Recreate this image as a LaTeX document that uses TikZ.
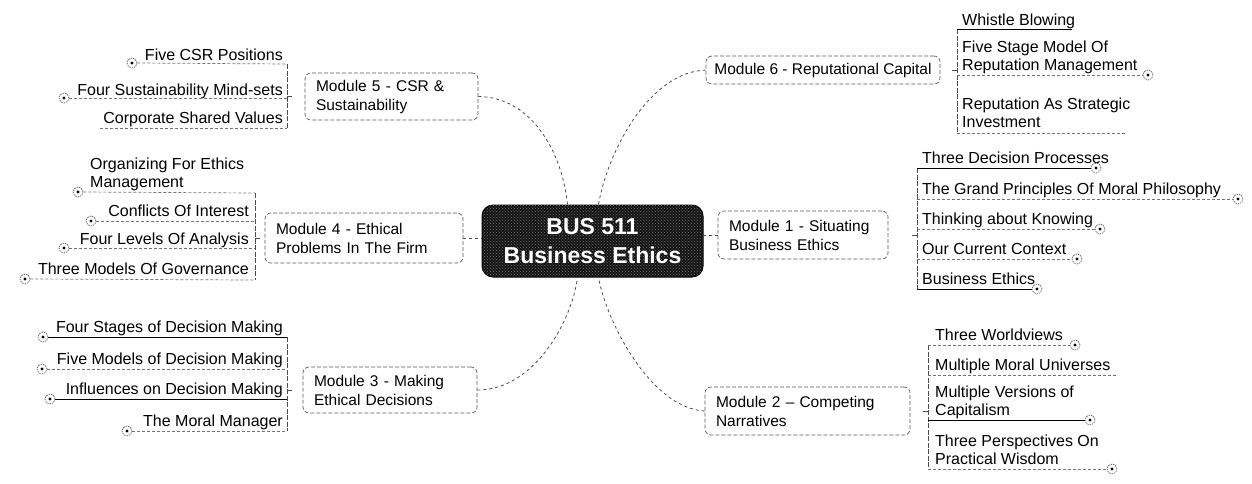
\documentclass[tikz,border=0pt]{standalone}
\usepackage{fontspec}
\setmainfont{Liberation Sans}
\usetikzlibrary{patterns}
\begin{document}
\begin{tikzpicture}[x=1pt,y=-1pt,
  tf/.style={font=\fontsize{16}{17.5}\selectfont, inner sep=0pt, align=left, text=black},
  modbox/.style={draw=black!65, line width=0.7pt, dash pattern=on 4pt off 2pt, rounded corners=6pt,
    font=\fontsize{15.5}{19}\selectfont, align=left, inner xsep=11pt, inner ysep=3pt, text=black},
  hub/.style={rectangle, rounded corners=11pt, draw=black, line width=1pt, fill=black!92,
    postaction={pattern=crosshatch dots, pattern color=black!55},
    text=white, font=\bfseries\fontsize{23}{29}\selectfont, align=center,
    minimum width=221pt, minimum height=72pt, inner sep=0pt},
  ul/.style={draw=black!55, line width=0.7pt, dash pattern=on 3pt off 2pt},
  sul/.style={draw=black, line width=1pt},
  brk/.style={draw=black!70, line width=0.7pt, dash pattern=on 5pt off 1.5pt},
  link/.style={draw=black!70, line width=0.8pt, dash pattern=on 3pt off 3pt},
  mk/.style={circle, draw=black!75, line width=0.6pt, dash pattern=on 1.5pt off 1pt,
    minimum size=10pt, inner sep=0pt,
    path picture={\fill[black] (path picture bounding box.center) circle[radius=1.7pt];}}
]
\useasboundingbox (0,0) rectangle (1252,483);

% ---------------- hub
\node[hub] (hub) at (592.5,241) {BUS 511\\Business Ethics};

% ---------------- module boxes
\node[modbox, text width=151pt, minimum height=47pt] (m5) at (391.5,96.5) {Module 5 - CSR \&\\Sustainability};
\node[modbox, text width=176pt, minimum height=50pt] (m4) at (364,238) {Module 4 - Ethical\\Problems In The Firm};
\node[modbox, text width=152pt, minimum height=46pt] (m3) at (390,390) {Module 3 - Making\\Ethical Decisions};
\node[modbox, inner xsep=8pt, minimum width=234pt, minimum height=28pt] (m6) at (823,70) {Module 6 - Reputational Capital};
\node[modbox, text width=148pt, minimum height=48pt] (m1) at (803,235) {Module 1 - Situating\\Business Ethics};
\node[modbox, text width=183pt, minimum height=48pt] (m2) at (807.5,411) {Module 2 -- Competing\\Narratives};

% ---------------- links from hub
\draw[link] (m5.east) .. controls (530,97) and (562,150) .. ([xshift=-25pt]hub.north);
\draw[link] (m6.west) .. controls (650,72) and (608,150) .. ([xshift=6pt]hub.north);
\draw[link] (m4.east) -- (m4.east -| hub.west);
\draw[link] (m1.west) -- (m1.west -| hub.east);
\draw[link] (m3.east) .. controls (535,390) and (572,320) .. ([xshift=-15pt]hub.south);
\draw[link] (m2.west) .. controls (650,408) and (606,320) .. ([xshift=6pt]hub.south);

% ================= Module 5 topics
\coordinate (b5t) at (287,64);
\coordinate (b5b) at (287,128);
\draw[brk] (b5t) -- (b5b);
\draw[brk] (b5t |- m5.west) -- ++(6,0);
\node[tf, anchor=base east] (t5a) at (283,60) {Five CSR Positions};
\node[tf, anchor=base east] (t5b) at (283,95) {Four Sustainability Mind-sets};
\node[tf, anchor=base east] (t5c) at (283,123) {Corporate Shared Values};
\node[mk] (k5a) at (132,63) {};
\node[mk] (k5b) at (64,98) {};
\draw[ul] (k5a.east) -- (b5t);
\draw[ul] (k5b.east) -- (287,98);
\draw[ul] (100,128) -- (b5b);

% ================= Module 4 topics
\coordinate (b4t) at (255,193);
\coordinate (b4b) at (255,280);
\draw[brk] (b4t) -- (b4b);
\draw[brk] (b4t |- m4.west) -- ++(6,0);
\node[tf, anchor=base west] (t4a) at (90,187) {Organizing For Ethics\\Management};
\node[tf, anchor=base east] (t4b) at (249,216) {Conflicts Of Interest};
\node[tf, anchor=base east] (t4c) at (249,244) {Four Levels Of Analysis};
\node[tf, anchor=base east] (t4d) at (249,274) {Three Models Of Governance};
\node[mk] (k4a) at (78,192) {};
\node[mk] (k4b) at (91,221) {};
\node[mk] (k4c) at (64,248) {};
\node[mk] (k4d) at (25,279) {};
\draw[ul] (k4a.east) -- (b4t);
\draw[ul] (k4b.east) -- (255,221);
\draw[ul] (k4c.east) -- (255,248);
\draw[ul] (k4d.east) -- (b4b);

% ================= Module 3 topics
\coordinate (b3t) at (287,337);
\coordinate (b3b) at (287,431);
\draw[brk] (b3t) -- (b3b);
\draw[brk] (b3t |- m3.west) -- ++(6,0);
\node[tf, anchor=base east] (t3a) at (283,332) {Four Stages of Decision Making};
\node[tf, anchor=base east] (t3b) at (283,364) {Five Models of Decision Making};
\node[tf, anchor=base east] (t3c) at (283,394) {Influences on Decision Making};
\node[tf, anchor=base east] (t3d) at (283,426) {The Moral Manager};
\node[mk] (k3a) at (43,337) {};
\node[mk] (k3b) at (42,369) {};
\node[mk] (k3c) at (50,399) {};
\node[mk] (k3d) at (127,431) {};
\draw[sul] (k3a.east) -- (b3t);
\draw[ul] (k3b.east) -- (287,369);
\draw[sul] (k3c.east) -- (287,399);
\draw[ul] (k3d.east) -- (b3b);

% ================= Module 6 topics
\coordinate (b6t) at (957,29);
\coordinate (b6b) at (957,133);
\draw[brk] (b6t) -- (b6b);
\draw[brk] (b6t |- m6.east) -- ++(-6,0);
\node[tf, anchor=base west] (t6a) at (962,25) {Whistle Blowing};
\node[tf, anchor=base west] (t6b) at (962,70) {Five Stage Model Of\\Reputation Management};
\node[tf, anchor=base west] (t6c) at (962,127) {Reputation As Strategic\\Investment};
\node[mk] (k6b) at (1148,75) {};
\draw[sul] (b6t) -- (1072,29);
\draw[ul] (957,75) -- (k6b.west);
\draw[ul] (b6b) -- (1125,133);

% ================= Module 1 topics
\coordinate (b1t) at (917,168);
\coordinate (b1b) at (917,289);
\draw[brk] (b1t) -- (b1b);
\draw[brk] (b1t |- m1.east) -- ++(-6,0);
\node[tf, anchor=base west] (t1a) at (922,163) {Three Decision Processes};
\node[tf, anchor=base west] (t1b) at (922,194) {The Grand Principles Of Moral Philosophy};
\node[tf, anchor=base west] (t1c) at (922,224) {Thinking about Knowing};
\node[tf, anchor=base west] (t1d) at (922,254) {Our Current Context};
\node[tf, anchor=base west] (t1e) at (922,284) {Business Ethics};
\node[mk] (k1a) at (1096,168) {};
\node[mk] (k1b) at (1238,199) {};
\node[mk] (k1c) at (1100,229) {};
\node[mk] (k1d) at (1077,259) {};
\node[mk] (k1e) at (1037,289) {};
\draw[sul] (b1t) -- (k1a.west);
\draw[ul] (917,199) -- (k1b.west);
\draw[ul] (917,229) -- (k1c.west);
\draw[ul] (917,259) -- (k1d.west);
\draw[sul] (b1b) -- (k1e.west);

% ================= Module 2 topics
\coordinate (b2t) at (928,345);
\coordinate (b2b) at (928,469);
\draw[brk] (b2t) -- (b2b);
\draw[brk] (b2t |- m2.east) -- ++(-6,0);
\node[tf, anchor=base west] (t2a) at (935,340) {Three Worldviews};
\node[tf, anchor=base west] (t2b) at (935,370) {Multiple Moral Universes};
\node[tf, anchor=base west] (t2c) at (935,415) {Multiple Versions of\\Capitalism};
\node[tf, anchor=base west] (t2d) at (935,464) {Three Perspectives On\\Practical Wisdom};
\node[mk] (k2a) at (1075,345) {};
\node[mk] (k2c) at (1090,420) {};
\node[mk] (k2d) at (1112,469) {};
\draw[ul] (b2t) -- (k2a.west);
\draw[ul] (928,375) -- (1118,375);
\draw[sul] (928,420) -- (k2c.west);
\draw[ul] (b2b) -- (k2d.west);
\end{tikzpicture}
\end{document}
